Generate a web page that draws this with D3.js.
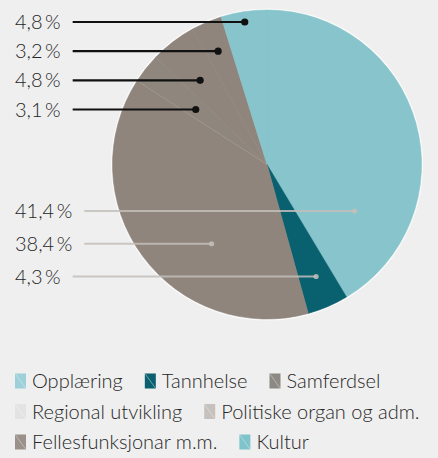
<!DOCTYPE html>
<html><head><meta charset="utf-8">
<script src="https://cdn.jsdelivr.net/npm/d3@7"></script>
<style>
html,body{margin:0;padding:0;background:#efefef;}
svg{display:block;}
text{font-family:Lato, "Noto Sans", sans-serif;font-weight:300;fill:#262626;}
</style></head>
<body>
<svg id="chart" width="438" height="458"></svg>
<script>
const categories = ["Opplæring","Tannhelse","Samferdsel","Regional utvikling","Politiske organ og adm.","Fellesfunksjonar m.m.","Kultur"];
const values = [41.4, 4.3, 38.4, 3.1, 4.8, 3.2, 4.8];
const sliceColors = ["#87c4cb","#09606f","#8f857c","#8f867d","#8f857c","#8f857d","#87c4cb"];
const legendColors = ["#9dd0d8","#0b5f6e","#8c8884","#e3e3e3","#c6c1bd","#9a918a","#7fc3cb"];
const legendRows = [[0,1,2],[3,4],[5,6]];
const topLabels = [6,5,4,3];
const bottomLabels = [0,2,1];

const svg = d3.select("#chart");
const cx = 267, cy = 164.5, R = 154.5;
const fmt = v => d3.format(".1f")(v).replace(".", ",") + "\u2009%";

const pie = d3.pie().sort(null).value(d => d)(values);
const arc = d3.arc().innerRadius(0).outerRadius(R);
const g = svg.append("g").attr("transform", `translate(${cx},${cy})`);
g.append("circle").attr("r", R + 0.8).attr("fill", "none").attr("stroke", "#fbfbfb").attr("stroke-width", 1.6);
g.selectAll("path.slice").data(pie).join("path").attr("class","slice")
  .attr("d", arc).attr("fill", (d,i) => sliceColors[i])
  .attr("stroke", (d,i) => sliceColors[i]).attr("stroke-width", 0.6);
const bAng = pie[3].startAngle;
g.append("line").attr("x1",0).attr("y1",0)
  .attr("x2", (R-3) * Math.sin(bAng)).attr("y2", -(R-3) * Math.cos(bAng))
  .attr("stroke","#a69d95").attr("stroke-width",1).attr("opacity",0.6);

// position: midpoint of the slice chord at a given y
function dotX(d, y) {
  const dy = y - cy;
  let minX = null, maxX = null;
  for (let x = cx - R; x <= cx + R; x += 0.25) {
    const dx = x - cx;
    if (dx*dx + dy*dy > R*R) continue;
    let a = Math.atan2(dx, -dy);
    if (a < 0) a += 2*Math.PI;
    if (a >= d.startAngle && a <= d.endAngle) {
      if (minX === null) minX = x;
      maxX = x;
    }
  }
  return (minX + maxX) / 2;
}

const yTop = d3.scalePoint().domain(topLabels).range([22, 109.5]);
const yBot = d3.scalePoint().domain(bottomLabels).range([211, 276.5]);

function drawLabels(list, yScale, lineColor, dotR, lineW, lineOpacity) {
  list.forEach(i => {
    const y = yScale(i);
    const t = svg.append("text").attr("x", 15).attr("y", y).attr("dy", "0.35em")
      .attr("font-size", 20).text(fmt(values[i]));
    const w = t.node().getComputedTextLength();
    const x2 = dotX(pie[i], y);
    svg.append("line").attr("x1", 15 + w + 12).attr("x2", x2).attr("y1", y).attr("y2", y)
      .attr("stroke", lineColor).attr("stroke-width", lineW).attr("opacity", lineOpacity);
    svg.append("circle").attr("cx", x2).attr("cy", y).attr("r", dotR)
      .attr("fill", lineColor).attr("opacity", lineOpacity);
  });
}
drawLabels(topLabels, yTop, "#111111", 3.6, 2.2, 1);
drawLabels(bottomLabels, yBot, "#c4bfbb", 2.6, 2, 0.85);

// legend
const rowY = d3.scalePoint().domain(d3.range(legendRows.length)).range([381, 442]);
legendRows.forEach((row, r) => {
  let x = 15;
  const y = rowY(r);
  row.forEach(i => {
    const lg = svg.append("g").attr("transform", `translate(${x},${y})`);
    lg.append("rect").attr("x", 0).attr("y", -7.5).attr("width", 11).attr("height", 15).attr("fill", legendColors[i]);
    lg.append("line").attr("x1", 0.5).attr("y1", -7).attr("x2", 10.5).attr("y2", 7)
      .attr("stroke", i === 1 ? "#7fb6bf" : "#ffffff").attr("stroke-opacity", i === 1 ? 0.8 : 0.35).attr("stroke-width", 1);
    const t = lg.append("text").attr("x", 17).attr("y", 0).attr("dy", "0.35em").attr("font-size", 20).text(categories[i]);
    x += 17 + t.node().getComputedTextLength() + 22;
  });
});
</script>
</body></html>
